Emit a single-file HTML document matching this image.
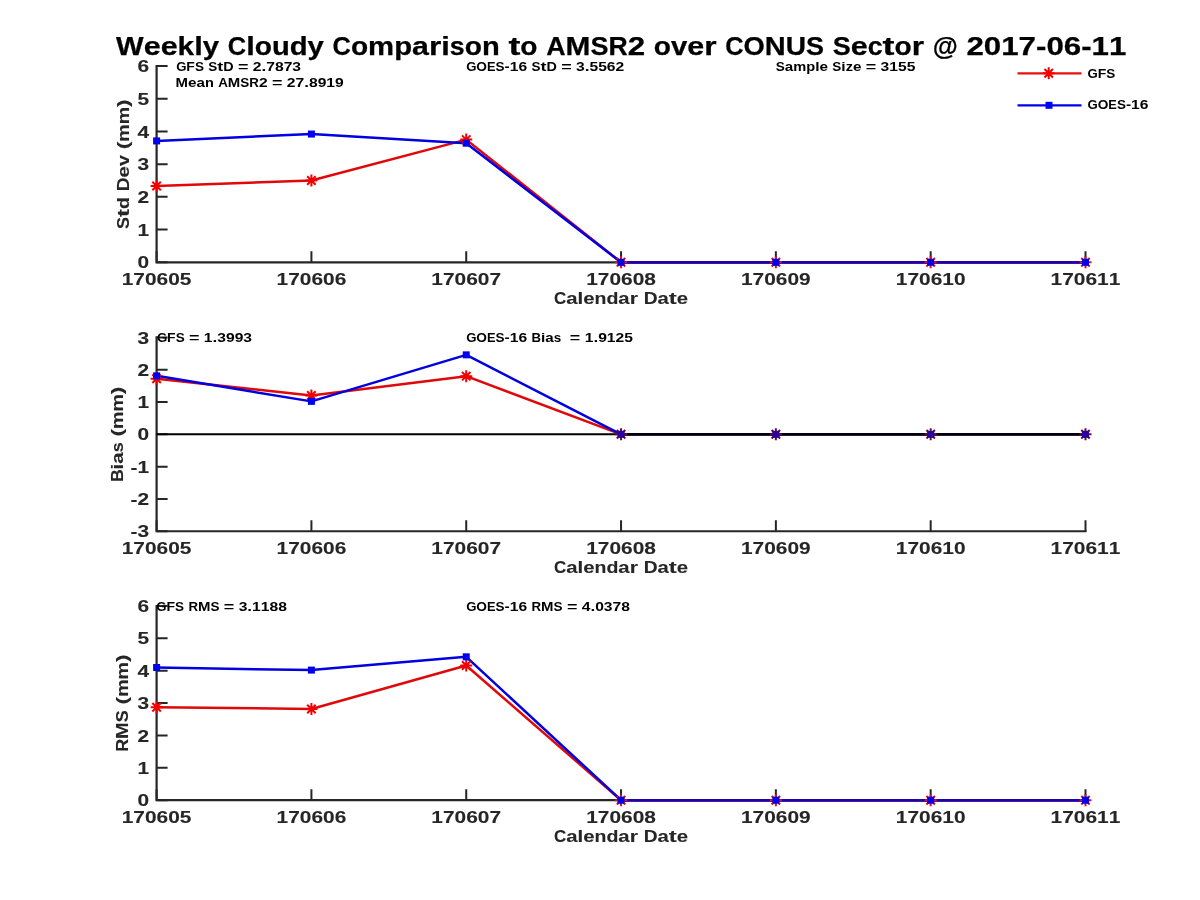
<!DOCTYPE html>
<html><head><meta charset="utf-8"><style>
html,body{margin:0;padding:0;background:#fff;width:1200px;height:900px;overflow:hidden}
svg{display:block;will-change:transform}
text{font-family:"Liberation Sans", sans-serif;font-weight:bold;white-space:pre;}
</style></head><body>
<svg width="1200" height="900" viewBox="0 0 1200 900">
<rect width="1200" height="900" fill="#fff"/>
<path d="M156.60 66.00L156.60 262.30L1085.50 262.30" stroke="#262626" stroke-width="2.2" fill="none" stroke-linecap="square"/>
<path d="M156.60 262.30L167.60 262.30M156.60 229.58L167.60 229.58M156.60 196.87L167.60 196.87M156.60 164.15L167.60 164.15M156.60 131.43L167.60 131.43M156.60 98.72L167.60 98.72M156.60 66.00L167.60 66.00M156.60 262.30L156.60 251.30M311.42 262.30L311.42 251.30M466.23 262.30L466.23 251.30M621.05 262.30L621.05 251.30M775.87 262.30L775.87 251.30M930.68 262.30L930.68 251.30M1085.50 262.30L1085.50 251.30" stroke="#262626" stroke-width="2" fill="none"/>
<g font-size="17.03" fill="#262626" stroke="#262626" stroke-width="0.10"><text x="137.48" y="268.40" textLength="11.62" lengthAdjust="spacingAndGlyphs">0</text></g>
<g font-size="17.03" fill="#262626" stroke="#262626" stroke-width="0.10"><text x="137.48" y="235.68" textLength="11.62" lengthAdjust="spacingAndGlyphs">1</text></g>
<g font-size="17.03" fill="#262626" stroke="#262626" stroke-width="0.10"><text x="137.48" y="202.97" textLength="11.62" lengthAdjust="spacingAndGlyphs">2</text></g>
<g font-size="17.03" fill="#262626" stroke="#262626" stroke-width="0.10"><text x="137.48" y="170.25" textLength="11.62" lengthAdjust="spacingAndGlyphs">3</text></g>
<g font-size="17.03" fill="#262626" stroke="#262626" stroke-width="0.10"><text x="137.48" y="137.53" textLength="11.62" lengthAdjust="spacingAndGlyphs">4</text></g>
<g font-size="17.03" fill="#262626" stroke="#262626" stroke-width="0.10"><text x="137.48" y="104.82" textLength="11.62" lengthAdjust="spacingAndGlyphs">5</text></g>
<g font-size="17.03" fill="#262626" stroke="#262626" stroke-width="0.10"><text x="137.48" y="72.10" textLength="11.62" lengthAdjust="spacingAndGlyphs">6</text></g>
<g font-size="17.03" fill="#262626" stroke="#262626" stroke-width="0.10"><text x="121.74" y="285.00" textLength="11.62" lengthAdjust="spacingAndGlyphs">1</text><text x="133.36" y="285.00" textLength="11.62" lengthAdjust="spacingAndGlyphs">7</text><text x="144.98" y="285.00" textLength="11.62" lengthAdjust="spacingAndGlyphs">0</text><text x="156.60" y="285.00" textLength="11.62" lengthAdjust="spacingAndGlyphs">6</text><text x="168.22" y="285.00" textLength="11.62" lengthAdjust="spacingAndGlyphs">0</text><text x="179.84" y="285.00" textLength="11.62" lengthAdjust="spacingAndGlyphs">5</text></g>
<g font-size="17.03" fill="#262626" stroke="#262626" stroke-width="0.10"><text x="276.56" y="285.00" textLength="11.62" lengthAdjust="spacingAndGlyphs">1</text><text x="288.18" y="285.00" textLength="11.62" lengthAdjust="spacingAndGlyphs">7</text><text x="299.80" y="285.00" textLength="11.62" lengthAdjust="spacingAndGlyphs">0</text><text x="311.42" y="285.00" textLength="11.62" lengthAdjust="spacingAndGlyphs">6</text><text x="323.04" y="285.00" textLength="11.62" lengthAdjust="spacingAndGlyphs">0</text><text x="334.66" y="285.00" textLength="11.62" lengthAdjust="spacingAndGlyphs">6</text></g>
<g font-size="17.03" fill="#262626" stroke="#262626" stroke-width="0.10"><text x="431.37" y="285.00" textLength="11.62" lengthAdjust="spacingAndGlyphs">1</text><text x="442.99" y="285.00" textLength="11.62" lengthAdjust="spacingAndGlyphs">7</text><text x="454.61" y="285.00" textLength="11.62" lengthAdjust="spacingAndGlyphs">0</text><text x="466.23" y="285.00" textLength="11.62" lengthAdjust="spacingAndGlyphs">6</text><text x="477.85" y="285.00" textLength="11.62" lengthAdjust="spacingAndGlyphs">0</text><text x="489.47" y="285.00" textLength="11.62" lengthAdjust="spacingAndGlyphs">7</text></g>
<g font-size="17.03" fill="#262626" stroke="#262626" stroke-width="0.10"><text x="586.19" y="285.00" textLength="11.62" lengthAdjust="spacingAndGlyphs">1</text><text x="597.81" y="285.00" textLength="11.62" lengthAdjust="spacingAndGlyphs">7</text><text x="609.43" y="285.00" textLength="11.62" lengthAdjust="spacingAndGlyphs">0</text><text x="621.05" y="285.00" textLength="11.62" lengthAdjust="spacingAndGlyphs">6</text><text x="632.67" y="285.00" textLength="11.62" lengthAdjust="spacingAndGlyphs">0</text><text x="644.29" y="285.00" textLength="11.62" lengthAdjust="spacingAndGlyphs">8</text></g>
<g font-size="17.03" fill="#262626" stroke="#262626" stroke-width="0.10"><text x="741.01" y="285.00" textLength="11.62" lengthAdjust="spacingAndGlyphs">1</text><text x="752.63" y="285.00" textLength="11.62" lengthAdjust="spacingAndGlyphs">7</text><text x="764.25" y="285.00" textLength="11.62" lengthAdjust="spacingAndGlyphs">0</text><text x="775.87" y="285.00" textLength="11.62" lengthAdjust="spacingAndGlyphs">6</text><text x="787.49" y="285.00" textLength="11.62" lengthAdjust="spacingAndGlyphs">0</text><text x="799.11" y="285.00" textLength="11.62" lengthAdjust="spacingAndGlyphs">9</text></g>
<g font-size="17.03" fill="#262626" stroke="#262626" stroke-width="0.10"><text x="895.82" y="285.00" textLength="11.62" lengthAdjust="spacingAndGlyphs">1</text><text x="907.44" y="285.00" textLength="11.62" lengthAdjust="spacingAndGlyphs">7</text><text x="919.06" y="285.00" textLength="11.62" lengthAdjust="spacingAndGlyphs">0</text><text x="930.68" y="285.00" textLength="11.62" lengthAdjust="spacingAndGlyphs">6</text><text x="942.30" y="285.00" textLength="11.62" lengthAdjust="spacingAndGlyphs">1</text><text x="953.92" y="285.00" textLength="11.62" lengthAdjust="spacingAndGlyphs">0</text></g>
<g font-size="17.03" fill="#262626" stroke="#262626" stroke-width="0.10"><text x="1050.64" y="285.00" textLength="11.62" lengthAdjust="spacingAndGlyphs">1</text><text x="1062.26" y="285.00" textLength="11.62" lengthAdjust="spacingAndGlyphs">7</text><text x="1073.88" y="285.00" textLength="11.62" lengthAdjust="spacingAndGlyphs">0</text><text x="1085.50" y="285.00" textLength="11.62" lengthAdjust="spacingAndGlyphs">6</text><text x="1097.12" y="285.00" textLength="11.62" lengthAdjust="spacingAndGlyphs">1</text><text x="1108.74" y="285.00" textLength="11.62" lengthAdjust="spacingAndGlyphs">1</text></g>
<g font-size="17.03" fill="#262626" stroke="#262626" stroke-width="0.10"><text x="553.96" y="304.40" textLength="12.26" lengthAdjust="spacingAndGlyphs">C</text><text x="566.22" y="304.40" textLength="11.27" lengthAdjust="spacingAndGlyphs">a</text><text x="577.49" y="304.40" textLength="5.72" lengthAdjust="spacingAndGlyphs">l</text><text x="583.21" y="304.40" textLength="11.33" lengthAdjust="spacingAndGlyphs">e</text><text x="594.54" y="304.40" textLength="11.89" lengthAdjust="spacingAndGlyphs">n</text><text x="606.43" y="304.40" textLength="11.95" lengthAdjust="spacingAndGlyphs">d</text><text x="618.38" y="304.40" textLength="11.27" lengthAdjust="spacingAndGlyphs">a</text><text x="629.65" y="304.40" textLength="8.24" lengthAdjust="spacingAndGlyphs">r</text><text x="643.70" y="304.40" textLength="13.86" lengthAdjust="spacingAndGlyphs">D</text><text x="657.56" y="304.40" textLength="11.27" lengthAdjust="spacingAndGlyphs">a</text><text x="668.83" y="304.40" textLength="7.98" lengthAdjust="spacingAndGlyphs">t</text><text x="676.81" y="304.40" textLength="11.33" lengthAdjust="spacingAndGlyphs">e</text></g>
<g font-size="17.03" fill="#262626" stroke="#262626" stroke-width="0.10" transform="rotate(-90 128.80 164.15)"><text x="63.93" y="164.15" textLength="12.03" lengthAdjust="spacingAndGlyphs">S</text><text x="75.96" y="164.15" textLength="7.98" lengthAdjust="spacingAndGlyphs">t</text><text x="83.94" y="164.15" textLength="11.95" lengthAdjust="spacingAndGlyphs">d</text><text x="101.71" y="164.15" textLength="13.86" lengthAdjust="spacingAndGlyphs">D</text><text x="115.57" y="164.15" textLength="11.33" lengthAdjust="spacingAndGlyphs">e</text><text x="126.90" y="164.15" textLength="10.89" lengthAdjust="spacingAndGlyphs">v</text><text x="143.60" y="164.15" textLength="7.63" lengthAdjust="spacingAndGlyphs">(</text><text x="151.23" y="164.15" textLength="17.40" lengthAdjust="spacingAndGlyphs">m</text><text x="168.63" y="164.15" textLength="17.40" lengthAdjust="spacingAndGlyphs">m</text><text x="186.04" y="164.15" textLength="7.63" lengthAdjust="spacingAndGlyphs">)</text></g>
<polyline points="156.60,186.07 311.42,180.51 466.23,139.61 621.05,262.30 775.87,262.30 930.68,262.30 1085.50,262.30" stroke="#e00808" stroke-width="2.5" fill="none" stroke-linejoin="round"/>
<polyline points="156.60,140.92 311.42,134.05 466.23,143.21 621.05,262.30 775.87,262.30 930.68,262.30 1085.50,262.30" stroke="#0000e0" stroke-width="2.5" fill="none" stroke-linejoin="round"/>
<path d="M621.05 262.30L1085.50 262.30" stroke="#2000a8" stroke-width="2.4" fill="none"/>
<path d="M150.60 186.07L162.60 186.07M156.60 180.07L156.60 192.07M152.36 181.83L160.84 190.31M152.36 190.31L160.84 181.83" stroke="#f00000" stroke-width="2.00" fill="none"/>
<path d="M305.42 180.51L317.42 180.51M311.42 174.51L311.42 186.51M307.17 176.27L315.66 184.75M307.17 184.75L315.66 176.27" stroke="#f00000" stroke-width="2.00" fill="none"/>
<path d="M460.23 139.61L472.23 139.61M466.23 133.61L466.23 145.61M461.99 135.37L470.48 143.86M461.99 143.86L470.48 135.37" stroke="#f00000" stroke-width="2.00" fill="none"/>
<path d="M615.05 262.30L627.05 262.30M621.05 256.30L621.05 268.30M616.81 258.06L625.29 266.54M616.81 266.54L625.29 258.06" stroke="#e01020" stroke-width="2.00" fill="none"/>
<path d="M769.87 262.30L781.87 262.30M775.87 256.30L775.87 268.30M771.62 258.06L780.11 266.54M771.62 266.54L780.11 258.06" stroke="#e01020" stroke-width="2.00" fill="none"/>
<path d="M924.68 262.30L936.68 262.30M930.68 256.30L930.68 268.30M926.44 258.06L934.93 266.54M926.44 266.54L934.93 258.06" stroke="#e01020" stroke-width="2.00" fill="none"/>
<path d="M1079.50 262.30L1091.50 262.30M1085.50 256.30L1085.50 268.30M1081.26 258.06L1089.74 266.54M1081.26 266.54L1089.74 258.06" stroke="#e01020" stroke-width="2.00" fill="none"/>
<rect x="153.10" y="137.42" width="7.00" height="7.00" fill="#0000f0"/>
<rect x="307.92" y="130.55" width="7.00" height="7.00" fill="#0000f0"/>
<rect x="462.73" y="139.71" width="7.00" height="7.00" fill="#0000f0"/>
<rect x="617.55" y="258.80" width="7.00" height="7.00" fill="#0000e8"/>
<rect x="772.37" y="258.80" width="7.00" height="7.00" fill="#0000e8"/>
<rect x="927.18" y="258.80" width="7.00" height="7.00" fill="#0000e8"/>
<rect x="1082.00" y="258.80" width="7.00" height="7.00" fill="#0000e8"/>
<path d="M156.60 337.40L156.60 531.25L1085.50 531.25" stroke="#262626" stroke-width="2.2" fill="none" stroke-linecap="square"/>
<path d="M156.60 531.25L167.60 531.25M156.60 498.94L167.60 498.94M156.60 466.63L167.60 466.63M156.60 434.32L167.60 434.32M156.60 402.02L167.60 402.02M156.60 369.71L167.60 369.71M156.60 337.40L167.60 337.40M156.60 531.25L156.60 520.25M311.42 531.25L311.42 520.25M466.23 531.25L466.23 520.25M621.05 531.25L621.05 520.25M775.87 531.25L775.87 520.25M930.68 531.25L930.68 520.25M1085.50 531.25L1085.50 520.25" stroke="#262626" stroke-width="2" fill="none"/>
<g font-size="17.03" fill="#262626" stroke="#262626" stroke-width="0.10"><text x="130.55" y="537.35" textLength="6.93" lengthAdjust="spacingAndGlyphs">-</text><text x="137.48" y="537.35" textLength="11.62" lengthAdjust="spacingAndGlyphs">3</text></g>
<g font-size="17.03" fill="#262626" stroke="#262626" stroke-width="0.10"><text x="130.55" y="505.04" textLength="6.93" lengthAdjust="spacingAndGlyphs">-</text><text x="137.48" y="505.04" textLength="11.62" lengthAdjust="spacingAndGlyphs">2</text></g>
<g font-size="17.03" fill="#262626" stroke="#262626" stroke-width="0.10"><text x="130.55" y="472.73" textLength="6.93" lengthAdjust="spacingAndGlyphs">-</text><text x="137.48" y="472.73" textLength="11.62" lengthAdjust="spacingAndGlyphs">1</text></g>
<g font-size="17.03" fill="#262626" stroke="#262626" stroke-width="0.10"><text x="137.48" y="440.43" textLength="11.62" lengthAdjust="spacingAndGlyphs">0</text></g>
<g font-size="17.03" fill="#262626" stroke="#262626" stroke-width="0.10"><text x="137.48" y="408.12" textLength="11.62" lengthAdjust="spacingAndGlyphs">1</text></g>
<g font-size="17.03" fill="#262626" stroke="#262626" stroke-width="0.10"><text x="137.48" y="375.81" textLength="11.62" lengthAdjust="spacingAndGlyphs">2</text></g>
<g font-size="17.03" fill="#262626" stroke="#262626" stroke-width="0.10"><text x="137.48" y="343.50" textLength="11.62" lengthAdjust="spacingAndGlyphs">3</text></g>
<g font-size="17.03" fill="#262626" stroke="#262626" stroke-width="0.10"><text x="121.74" y="553.95" textLength="11.62" lengthAdjust="spacingAndGlyphs">1</text><text x="133.36" y="553.95" textLength="11.62" lengthAdjust="spacingAndGlyphs">7</text><text x="144.98" y="553.95" textLength="11.62" lengthAdjust="spacingAndGlyphs">0</text><text x="156.60" y="553.95" textLength="11.62" lengthAdjust="spacingAndGlyphs">6</text><text x="168.22" y="553.95" textLength="11.62" lengthAdjust="spacingAndGlyphs">0</text><text x="179.84" y="553.95" textLength="11.62" lengthAdjust="spacingAndGlyphs">5</text></g>
<g font-size="17.03" fill="#262626" stroke="#262626" stroke-width="0.10"><text x="276.56" y="553.95" textLength="11.62" lengthAdjust="spacingAndGlyphs">1</text><text x="288.18" y="553.95" textLength="11.62" lengthAdjust="spacingAndGlyphs">7</text><text x="299.80" y="553.95" textLength="11.62" lengthAdjust="spacingAndGlyphs">0</text><text x="311.42" y="553.95" textLength="11.62" lengthAdjust="spacingAndGlyphs">6</text><text x="323.04" y="553.95" textLength="11.62" lengthAdjust="spacingAndGlyphs">0</text><text x="334.66" y="553.95" textLength="11.62" lengthAdjust="spacingAndGlyphs">6</text></g>
<g font-size="17.03" fill="#262626" stroke="#262626" stroke-width="0.10"><text x="431.37" y="553.95" textLength="11.62" lengthAdjust="spacingAndGlyphs">1</text><text x="442.99" y="553.95" textLength="11.62" lengthAdjust="spacingAndGlyphs">7</text><text x="454.61" y="553.95" textLength="11.62" lengthAdjust="spacingAndGlyphs">0</text><text x="466.23" y="553.95" textLength="11.62" lengthAdjust="spacingAndGlyphs">6</text><text x="477.85" y="553.95" textLength="11.62" lengthAdjust="spacingAndGlyphs">0</text><text x="489.47" y="553.95" textLength="11.62" lengthAdjust="spacingAndGlyphs">7</text></g>
<g font-size="17.03" fill="#262626" stroke="#262626" stroke-width="0.10"><text x="586.19" y="553.95" textLength="11.62" lengthAdjust="spacingAndGlyphs">1</text><text x="597.81" y="553.95" textLength="11.62" lengthAdjust="spacingAndGlyphs">7</text><text x="609.43" y="553.95" textLength="11.62" lengthAdjust="spacingAndGlyphs">0</text><text x="621.05" y="553.95" textLength="11.62" lengthAdjust="spacingAndGlyphs">6</text><text x="632.67" y="553.95" textLength="11.62" lengthAdjust="spacingAndGlyphs">0</text><text x="644.29" y="553.95" textLength="11.62" lengthAdjust="spacingAndGlyphs">8</text></g>
<g font-size="17.03" fill="#262626" stroke="#262626" stroke-width="0.10"><text x="741.01" y="553.95" textLength="11.62" lengthAdjust="spacingAndGlyphs">1</text><text x="752.63" y="553.95" textLength="11.62" lengthAdjust="spacingAndGlyphs">7</text><text x="764.25" y="553.95" textLength="11.62" lengthAdjust="spacingAndGlyphs">0</text><text x="775.87" y="553.95" textLength="11.62" lengthAdjust="spacingAndGlyphs">6</text><text x="787.49" y="553.95" textLength="11.62" lengthAdjust="spacingAndGlyphs">0</text><text x="799.11" y="553.95" textLength="11.62" lengthAdjust="spacingAndGlyphs">9</text></g>
<g font-size="17.03" fill="#262626" stroke="#262626" stroke-width="0.10"><text x="895.82" y="553.95" textLength="11.62" lengthAdjust="spacingAndGlyphs">1</text><text x="907.44" y="553.95" textLength="11.62" lengthAdjust="spacingAndGlyphs">7</text><text x="919.06" y="553.95" textLength="11.62" lengthAdjust="spacingAndGlyphs">0</text><text x="930.68" y="553.95" textLength="11.62" lengthAdjust="spacingAndGlyphs">6</text><text x="942.30" y="553.95" textLength="11.62" lengthAdjust="spacingAndGlyphs">1</text><text x="953.92" y="553.95" textLength="11.62" lengthAdjust="spacingAndGlyphs">0</text></g>
<g font-size="17.03" fill="#262626" stroke="#262626" stroke-width="0.10"><text x="1050.64" y="553.95" textLength="11.62" lengthAdjust="spacingAndGlyphs">1</text><text x="1062.26" y="553.95" textLength="11.62" lengthAdjust="spacingAndGlyphs">7</text><text x="1073.88" y="553.95" textLength="11.62" lengthAdjust="spacingAndGlyphs">0</text><text x="1085.50" y="553.95" textLength="11.62" lengthAdjust="spacingAndGlyphs">6</text><text x="1097.12" y="553.95" textLength="11.62" lengthAdjust="spacingAndGlyphs">1</text><text x="1108.74" y="553.95" textLength="11.62" lengthAdjust="spacingAndGlyphs">1</text></g>
<g font-size="17.03" fill="#262626" stroke="#262626" stroke-width="0.10"><text x="553.96" y="573.35" textLength="12.26" lengthAdjust="spacingAndGlyphs">C</text><text x="566.22" y="573.35" textLength="11.27" lengthAdjust="spacingAndGlyphs">a</text><text x="577.49" y="573.35" textLength="5.72" lengthAdjust="spacingAndGlyphs">l</text><text x="583.21" y="573.35" textLength="11.33" lengthAdjust="spacingAndGlyphs">e</text><text x="594.54" y="573.35" textLength="11.89" lengthAdjust="spacingAndGlyphs">n</text><text x="606.43" y="573.35" textLength="11.95" lengthAdjust="spacingAndGlyphs">d</text><text x="618.38" y="573.35" textLength="11.27" lengthAdjust="spacingAndGlyphs">a</text><text x="629.65" y="573.35" textLength="8.24" lengthAdjust="spacingAndGlyphs">r</text><text x="643.70" y="573.35" textLength="13.86" lengthAdjust="spacingAndGlyphs">D</text><text x="657.56" y="573.35" textLength="11.27" lengthAdjust="spacingAndGlyphs">a</text><text x="668.83" y="573.35" textLength="7.98" lengthAdjust="spacingAndGlyphs">t</text><text x="676.81" y="573.35" textLength="11.33" lengthAdjust="spacingAndGlyphs">e</text></g>
<g font-size="17.03" fill="#262626" stroke="#262626" stroke-width="0.10" transform="rotate(-90 122.60 434.32)"><text x="74.83" y="434.32" textLength="12.73" lengthAdjust="spacingAndGlyphs">B</text><text x="87.56" y="434.32" textLength="5.72" lengthAdjust="spacingAndGlyphs">i</text><text x="93.28" y="434.32" textLength="11.27" lengthAdjust="spacingAndGlyphs">a</text><text x="104.55" y="434.32" textLength="9.94" lengthAdjust="spacingAndGlyphs">s</text><text x="120.30" y="434.32" textLength="7.63" lengthAdjust="spacingAndGlyphs">(</text><text x="127.94" y="434.32" textLength="17.40" lengthAdjust="spacingAndGlyphs">m</text><text x="145.34" y="434.32" textLength="17.40" lengthAdjust="spacingAndGlyphs">m</text><text x="162.74" y="434.32" textLength="7.63" lengthAdjust="spacingAndGlyphs">)</text></g>
<polyline points="156.60,378.75 311.42,395.55 466.23,376.17 621.05,434.32 775.87,434.32 930.68,434.32 1085.50,434.32" stroke="#e00808" stroke-width="2.5" fill="none" stroke-linejoin="round"/>
<polyline points="156.60,375.85 311.42,401.37 466.23,354.85 621.05,434.32 775.87,434.32 930.68,434.32 1085.50,434.32" stroke="#0000e0" stroke-width="2.5" fill="none" stroke-linejoin="round"/>
<path d="M156.60 434.32L1085.50 434.32" stroke="#000" stroke-width="2" fill="none"/>
<path d="M621.05 434.32L1085.50 434.32" stroke="#000" stroke-width="2.4" fill="none"/>
<path d="M150.60 378.75L162.60 378.75M156.60 372.75L156.60 384.75M152.36 374.51L160.84 383.00M152.36 383.00L160.84 374.51" stroke="#f00000" stroke-width="2.00" fill="none"/>
<path d="M305.42 395.55L317.42 395.55M311.42 389.55L311.42 401.55M307.17 391.31L315.66 399.80M307.17 399.80L315.66 391.31" stroke="#f00000" stroke-width="2.00" fill="none"/>
<path d="M460.23 376.17L472.23 376.17M466.23 370.17L466.23 382.17M461.99 371.93L470.48 380.41M461.99 380.41L470.48 371.93" stroke="#f00000" stroke-width="2.00" fill="none"/>
<path d="M615.05 434.32L627.05 434.32M621.05 428.32L621.05 440.32M616.81 430.08L625.29 438.57M616.81 438.57L625.29 430.08" stroke="#6a1030" stroke-width="2.00" fill="none"/>
<path d="M769.87 434.32L781.87 434.32M775.87 428.32L775.87 440.32M771.62 430.08L780.11 438.57M771.62 438.57L780.11 430.08" stroke="#6a1030" stroke-width="2.00" fill="none"/>
<path d="M924.68 434.32L936.68 434.32M930.68 428.32L930.68 440.32M926.44 430.08L934.93 438.57M926.44 438.57L934.93 430.08" stroke="#6a1030" stroke-width="2.00" fill="none"/>
<path d="M1079.50 434.32L1091.50 434.32M1085.50 428.32L1085.50 440.32M1081.26 430.08L1089.74 438.57M1081.26 438.57L1089.74 430.08" stroke="#6a1030" stroke-width="2.00" fill="none"/>
<rect x="153.10" y="372.35" width="7.00" height="7.00" fill="#0000f0"/>
<rect x="307.92" y="397.87" width="7.00" height="7.00" fill="#0000f0"/>
<rect x="462.73" y="351.35" width="7.00" height="7.00" fill="#0000f0"/>
<rect x="617.55" y="430.82" width="7.00" height="7.00" fill="#2a00a0"/>
<rect x="772.37" y="430.82" width="7.00" height="7.00" fill="#2a00a0"/>
<rect x="927.18" y="430.82" width="7.00" height="7.00" fill="#2a00a0"/>
<rect x="1082.00" y="430.82" width="7.00" height="7.00" fill="#2a00a0"/>
<path d="M156.60 606.00L156.60 800.20L1085.50 800.20" stroke="#262626" stroke-width="2.2" fill="none" stroke-linecap="square"/>
<path d="M156.60 800.20L167.60 800.20M156.60 767.83L167.60 767.83M156.60 735.47L167.60 735.47M156.60 703.10L167.60 703.10M156.60 670.73L167.60 670.73M156.60 638.37L167.60 638.37M156.60 606.00L167.60 606.00M156.60 800.20L156.60 789.20M311.42 800.20L311.42 789.20M466.23 800.20L466.23 789.20M621.05 800.20L621.05 789.20M775.87 800.20L775.87 789.20M930.68 800.20L930.68 789.20M1085.50 800.20L1085.50 789.20" stroke="#262626" stroke-width="2" fill="none"/>
<g font-size="17.03" fill="#262626" stroke="#262626" stroke-width="0.10"><text x="137.48" y="806.30" textLength="11.62" lengthAdjust="spacingAndGlyphs">0</text></g>
<g font-size="17.03" fill="#262626" stroke="#262626" stroke-width="0.10"><text x="137.48" y="773.93" textLength="11.62" lengthAdjust="spacingAndGlyphs">1</text></g>
<g font-size="17.03" fill="#262626" stroke="#262626" stroke-width="0.10"><text x="137.48" y="741.57" textLength="11.62" lengthAdjust="spacingAndGlyphs">2</text></g>
<g font-size="17.03" fill="#262626" stroke="#262626" stroke-width="0.10"><text x="137.48" y="709.20" textLength="11.62" lengthAdjust="spacingAndGlyphs">3</text></g>
<g font-size="17.03" fill="#262626" stroke="#262626" stroke-width="0.10"><text x="137.48" y="676.83" textLength="11.62" lengthAdjust="spacingAndGlyphs">4</text></g>
<g font-size="17.03" fill="#262626" stroke="#262626" stroke-width="0.10"><text x="137.48" y="644.47" textLength="11.62" lengthAdjust="spacingAndGlyphs">5</text></g>
<g font-size="17.03" fill="#262626" stroke="#262626" stroke-width="0.10"><text x="137.48" y="612.10" textLength="11.62" lengthAdjust="spacingAndGlyphs">6</text></g>
<g font-size="17.03" fill="#262626" stroke="#262626" stroke-width="0.10"><text x="121.74" y="822.90" textLength="11.62" lengthAdjust="spacingAndGlyphs">1</text><text x="133.36" y="822.90" textLength="11.62" lengthAdjust="spacingAndGlyphs">7</text><text x="144.98" y="822.90" textLength="11.62" lengthAdjust="spacingAndGlyphs">0</text><text x="156.60" y="822.90" textLength="11.62" lengthAdjust="spacingAndGlyphs">6</text><text x="168.22" y="822.90" textLength="11.62" lengthAdjust="spacingAndGlyphs">0</text><text x="179.84" y="822.90" textLength="11.62" lengthAdjust="spacingAndGlyphs">5</text></g>
<g font-size="17.03" fill="#262626" stroke="#262626" stroke-width="0.10"><text x="276.56" y="822.90" textLength="11.62" lengthAdjust="spacingAndGlyphs">1</text><text x="288.18" y="822.90" textLength="11.62" lengthAdjust="spacingAndGlyphs">7</text><text x="299.80" y="822.90" textLength="11.62" lengthAdjust="spacingAndGlyphs">0</text><text x="311.42" y="822.90" textLength="11.62" lengthAdjust="spacingAndGlyphs">6</text><text x="323.04" y="822.90" textLength="11.62" lengthAdjust="spacingAndGlyphs">0</text><text x="334.66" y="822.90" textLength="11.62" lengthAdjust="spacingAndGlyphs">6</text></g>
<g font-size="17.03" fill="#262626" stroke="#262626" stroke-width="0.10"><text x="431.37" y="822.90" textLength="11.62" lengthAdjust="spacingAndGlyphs">1</text><text x="442.99" y="822.90" textLength="11.62" lengthAdjust="spacingAndGlyphs">7</text><text x="454.61" y="822.90" textLength="11.62" lengthAdjust="spacingAndGlyphs">0</text><text x="466.23" y="822.90" textLength="11.62" lengthAdjust="spacingAndGlyphs">6</text><text x="477.85" y="822.90" textLength="11.62" lengthAdjust="spacingAndGlyphs">0</text><text x="489.47" y="822.90" textLength="11.62" lengthAdjust="spacingAndGlyphs">7</text></g>
<g font-size="17.03" fill="#262626" stroke="#262626" stroke-width="0.10"><text x="586.19" y="822.90" textLength="11.62" lengthAdjust="spacingAndGlyphs">1</text><text x="597.81" y="822.90" textLength="11.62" lengthAdjust="spacingAndGlyphs">7</text><text x="609.43" y="822.90" textLength="11.62" lengthAdjust="spacingAndGlyphs">0</text><text x="621.05" y="822.90" textLength="11.62" lengthAdjust="spacingAndGlyphs">6</text><text x="632.67" y="822.90" textLength="11.62" lengthAdjust="spacingAndGlyphs">0</text><text x="644.29" y="822.90" textLength="11.62" lengthAdjust="spacingAndGlyphs">8</text></g>
<g font-size="17.03" fill="#262626" stroke="#262626" stroke-width="0.10"><text x="741.01" y="822.90" textLength="11.62" lengthAdjust="spacingAndGlyphs">1</text><text x="752.63" y="822.90" textLength="11.62" lengthAdjust="spacingAndGlyphs">7</text><text x="764.25" y="822.90" textLength="11.62" lengthAdjust="spacingAndGlyphs">0</text><text x="775.87" y="822.90" textLength="11.62" lengthAdjust="spacingAndGlyphs">6</text><text x="787.49" y="822.90" textLength="11.62" lengthAdjust="spacingAndGlyphs">0</text><text x="799.11" y="822.90" textLength="11.62" lengthAdjust="spacingAndGlyphs">9</text></g>
<g font-size="17.03" fill="#262626" stroke="#262626" stroke-width="0.10"><text x="895.82" y="822.90" textLength="11.62" lengthAdjust="spacingAndGlyphs">1</text><text x="907.44" y="822.90" textLength="11.62" lengthAdjust="spacingAndGlyphs">7</text><text x="919.06" y="822.90" textLength="11.62" lengthAdjust="spacingAndGlyphs">0</text><text x="930.68" y="822.90" textLength="11.62" lengthAdjust="spacingAndGlyphs">6</text><text x="942.30" y="822.90" textLength="11.62" lengthAdjust="spacingAndGlyphs">1</text><text x="953.92" y="822.90" textLength="11.62" lengthAdjust="spacingAndGlyphs">0</text></g>
<g font-size="17.03" fill="#262626" stroke="#262626" stroke-width="0.10"><text x="1050.64" y="822.90" textLength="11.62" lengthAdjust="spacingAndGlyphs">1</text><text x="1062.26" y="822.90" textLength="11.62" lengthAdjust="spacingAndGlyphs">7</text><text x="1073.88" y="822.90" textLength="11.62" lengthAdjust="spacingAndGlyphs">0</text><text x="1085.50" y="822.90" textLength="11.62" lengthAdjust="spacingAndGlyphs">6</text><text x="1097.12" y="822.90" textLength="11.62" lengthAdjust="spacingAndGlyphs">1</text><text x="1108.74" y="822.90" textLength="11.62" lengthAdjust="spacingAndGlyphs">1</text></g>
<g font-size="17.03" fill="#262626" stroke="#262626" stroke-width="0.10"><text x="553.96" y="842.30" textLength="12.26" lengthAdjust="spacingAndGlyphs">C</text><text x="566.22" y="842.30" textLength="11.27" lengthAdjust="spacingAndGlyphs">a</text><text x="577.49" y="842.30" textLength="5.72" lengthAdjust="spacingAndGlyphs">l</text><text x="583.21" y="842.30" textLength="11.33" lengthAdjust="spacingAndGlyphs">e</text><text x="594.54" y="842.30" textLength="11.89" lengthAdjust="spacingAndGlyphs">n</text><text x="606.43" y="842.30" textLength="11.95" lengthAdjust="spacingAndGlyphs">d</text><text x="618.38" y="842.30" textLength="11.27" lengthAdjust="spacingAndGlyphs">a</text><text x="629.65" y="842.30" textLength="8.24" lengthAdjust="spacingAndGlyphs">r</text><text x="643.70" y="842.30" textLength="13.86" lengthAdjust="spacingAndGlyphs">D</text><text x="657.56" y="842.30" textLength="11.27" lengthAdjust="spacingAndGlyphs">a</text><text x="668.83" y="842.30" textLength="7.98" lengthAdjust="spacingAndGlyphs">t</text><text x="676.81" y="842.30" textLength="11.33" lengthAdjust="spacingAndGlyphs">e</text></g>
<g font-size="17.03" fill="#262626" stroke="#262626" stroke-width="0.10" transform="rotate(-90 128.20 703.10)"><text x="79.51" y="703.10" textLength="12.86" lengthAdjust="spacingAndGlyphs">R</text><text x="92.37" y="703.10" textLength="16.62" lengthAdjust="spacingAndGlyphs">M</text><text x="108.98" y="703.10" textLength="12.03" lengthAdjust="spacingAndGlyphs">S</text><text x="126.83" y="703.10" textLength="7.63" lengthAdjust="spacingAndGlyphs">(</text><text x="134.46" y="703.10" textLength="17.40" lengthAdjust="spacingAndGlyphs">m</text><text x="151.86" y="703.10" textLength="17.40" lengthAdjust="spacingAndGlyphs">m</text><text x="169.26" y="703.10" textLength="7.63" lengthAdjust="spacingAndGlyphs">)</text></g>
<polyline points="156.60,707.31 311.42,708.93 466.23,665.55 621.05,800.20 775.87,800.20 930.68,800.20 1085.50,800.20" stroke="#e00808" stroke-width="2.5" fill="none" stroke-linejoin="round"/>
<polyline points="156.60,667.50 311.42,670.09 466.23,656.82 621.05,800.20 775.87,800.20 930.68,800.20 1085.50,800.20" stroke="#0000e0" stroke-width="2.5" fill="none" stroke-linejoin="round"/>
<path d="M621.05 800.20L1085.50 800.20" stroke="#2000a8" stroke-width="2.4" fill="none"/>
<path d="M150.60 707.31L162.60 707.31M156.60 701.31L156.60 713.31M152.36 703.07L160.84 711.55M152.36 711.55L160.84 703.07" stroke="#f00000" stroke-width="2.00" fill="none"/>
<path d="M305.42 708.93L317.42 708.93M311.42 702.93L311.42 714.93M307.17 704.68L315.66 713.17M307.17 713.17L315.66 704.68" stroke="#f00000" stroke-width="2.00" fill="none"/>
<path d="M460.23 665.55L472.23 665.55M466.23 659.55L466.23 671.55M461.99 661.31L470.48 669.80M461.99 669.80L470.48 661.31" stroke="#f00000" stroke-width="2.00" fill="none"/>
<path d="M615.05 800.20L627.05 800.20M621.05 794.20L621.05 806.20M616.81 795.96L625.29 804.44M616.81 804.44L625.29 795.96" stroke="#e01020" stroke-width="2.00" fill="none"/>
<path d="M769.87 800.20L781.87 800.20M775.87 794.20L775.87 806.20M771.62 795.96L780.11 804.44M771.62 804.44L780.11 795.96" stroke="#e01020" stroke-width="2.00" fill="none"/>
<path d="M924.68 800.20L936.68 800.20M930.68 794.20L930.68 806.20M926.44 795.96L934.93 804.44M926.44 804.44L934.93 795.96" stroke="#e01020" stroke-width="2.00" fill="none"/>
<path d="M1079.50 800.20L1091.50 800.20M1085.50 794.20L1085.50 806.20M1081.26 795.96L1089.74 804.44M1081.26 804.44L1089.74 795.96" stroke="#e01020" stroke-width="2.00" fill="none"/>
<rect x="153.10" y="664.00" width="7.00" height="7.00" fill="#0000f0"/>
<rect x="307.92" y="666.59" width="7.00" height="7.00" fill="#0000f0"/>
<rect x="462.73" y="653.32" width="7.00" height="7.00" fill="#0000f0"/>
<rect x="617.55" y="796.70" width="7.00" height="7.00" fill="#0000e8"/>
<rect x="772.37" y="796.70" width="7.00" height="7.00" fill="#0000e8"/>
<rect x="927.18" y="796.70" width="7.00" height="7.00" fill="#0000e8"/>
<rect x="1082.00" y="796.70" width="7.00" height="7.00" fill="#0000e8"/>
<g font-size="13.25" fill="#000"><text x="176.13" y="70.80" textLength="10.26" lengthAdjust="spacingAndGlyphs">G</text><text x="186.39" y="70.80" textLength="8.54" lengthAdjust="spacingAndGlyphs">F</text><text x="194.93" y="70.80" textLength="9.00" lengthAdjust="spacingAndGlyphs">S</text><text x="208.28" y="70.80" textLength="9.00" lengthAdjust="spacingAndGlyphs">S</text><text x="217.28" y="70.80" textLength="5.98" lengthAdjust="spacingAndGlyphs">t</text><text x="223.26" y="70.80" textLength="10.38" lengthAdjust="spacingAndGlyphs">D</text><text x="237.99" y="70.80" textLength="10.47" lengthAdjust="spacingAndGlyphs">=</text><text x="252.81" y="70.80" textLength="8.70" lengthAdjust="spacingAndGlyphs">2</text><text x="261.51" y="70.80" textLength="4.75" lengthAdjust="spacingAndGlyphs">.</text><text x="266.26" y="70.80" textLength="8.70" lengthAdjust="spacingAndGlyphs">7</text><text x="274.96" y="70.80" textLength="8.70" lengthAdjust="spacingAndGlyphs">8</text><text x="283.65" y="70.80" textLength="8.70" lengthAdjust="spacingAndGlyphs">7</text><text x="292.35" y="70.80" textLength="8.70" lengthAdjust="spacingAndGlyphs">3</text></g>
<g font-size="13.25" fill="#000"><text x="175.60" y="86.90" textLength="12.44" lengthAdjust="spacingAndGlyphs">M</text><text x="188.04" y="86.90" textLength="8.48" lengthAdjust="spacingAndGlyphs">e</text><text x="196.52" y="86.90" textLength="8.44" lengthAdjust="spacingAndGlyphs">a</text><text x="204.95" y="86.90" textLength="8.90" lengthAdjust="spacingAndGlyphs">n</text><text x="218.21" y="86.90" textLength="9.67" lengthAdjust="spacingAndGlyphs">A</text><text x="227.88" y="86.90" textLength="12.44" lengthAdjust="spacingAndGlyphs">M</text><text x="240.32" y="86.90" textLength="9.00" lengthAdjust="spacingAndGlyphs">S</text><text x="249.32" y="86.90" textLength="9.63" lengthAdjust="spacingAndGlyphs">R</text><text x="258.95" y="86.90" textLength="8.70" lengthAdjust="spacingAndGlyphs">2</text><text x="272.00" y="86.90" textLength="10.47" lengthAdjust="spacingAndGlyphs">=</text><text x="286.82" y="86.90" textLength="8.70" lengthAdjust="spacingAndGlyphs">2</text><text x="295.52" y="86.90" textLength="8.70" lengthAdjust="spacingAndGlyphs">7</text><text x="304.22" y="86.90" textLength="4.75" lengthAdjust="spacingAndGlyphs">.</text><text x="308.96" y="86.90" textLength="8.70" lengthAdjust="spacingAndGlyphs">8</text><text x="317.66" y="86.90" textLength="8.70" lengthAdjust="spacingAndGlyphs">9</text><text x="326.36" y="86.90" textLength="8.70" lengthAdjust="spacingAndGlyphs">1</text><text x="335.06" y="86.90" textLength="8.70" lengthAdjust="spacingAndGlyphs">9</text></g>
<g font-size="13.25" fill="#000"><text x="466.13" y="70.80" textLength="10.26" lengthAdjust="spacingAndGlyphs">G</text><text x="476.39" y="70.80" textLength="10.63" lengthAdjust="spacingAndGlyphs">O</text><text x="487.01" y="70.80" textLength="8.54" lengthAdjust="spacingAndGlyphs">E</text><text x="495.55" y="70.80" textLength="9.00" lengthAdjust="spacingAndGlyphs">S</text><text x="504.56" y="70.80" textLength="5.19" lengthAdjust="spacingAndGlyphs">-</text><text x="509.74" y="70.80" textLength="8.70" lengthAdjust="spacingAndGlyphs">1</text><text x="518.44" y="70.80" textLength="8.70" lengthAdjust="spacingAndGlyphs">6</text><text x="531.49" y="70.80" textLength="9.00" lengthAdjust="spacingAndGlyphs">S</text><text x="540.49" y="70.80" textLength="5.98" lengthAdjust="spacingAndGlyphs">t</text><text x="546.47" y="70.80" textLength="10.38" lengthAdjust="spacingAndGlyphs">D</text><text x="561.20" y="70.80" textLength="10.47" lengthAdjust="spacingAndGlyphs">=</text><text x="576.02" y="70.80" textLength="8.70" lengthAdjust="spacingAndGlyphs">3</text><text x="584.72" y="70.80" textLength="4.75" lengthAdjust="spacingAndGlyphs">.</text><text x="589.47" y="70.80" textLength="8.70" lengthAdjust="spacingAndGlyphs">5</text><text x="598.16" y="70.80" textLength="8.70" lengthAdjust="spacingAndGlyphs">5</text><text x="606.86" y="70.80" textLength="8.70" lengthAdjust="spacingAndGlyphs">6</text><text x="615.56" y="70.80" textLength="8.70" lengthAdjust="spacingAndGlyphs">2</text></g>
<g font-size="13.25" fill="#000"><text x="775.85" y="70.80" textLength="9.00" lengthAdjust="spacingAndGlyphs">S</text><text x="784.86" y="70.80" textLength="8.44" lengthAdjust="spacingAndGlyphs">a</text><text x="793.29" y="70.80" textLength="13.02" lengthAdjust="spacingAndGlyphs">m</text><text x="806.32" y="70.80" textLength="8.95" lengthAdjust="spacingAndGlyphs">p</text><text x="815.26" y="70.80" textLength="4.28" lengthAdjust="spacingAndGlyphs">l</text><text x="819.55" y="70.80" textLength="8.48" lengthAdjust="spacingAndGlyphs">e</text><text x="832.38" y="70.80" textLength="9.00" lengthAdjust="spacingAndGlyphs">S</text><text x="841.38" y="70.80" textLength="4.28" lengthAdjust="spacingAndGlyphs">i</text><text x="845.66" y="70.80" textLength="7.28" lengthAdjust="spacingAndGlyphs">z</text><text x="852.94" y="70.80" textLength="8.48" lengthAdjust="spacingAndGlyphs">e</text><text x="865.77" y="70.80" textLength="10.47" lengthAdjust="spacingAndGlyphs">=</text><text x="880.60" y="70.80" textLength="8.70" lengthAdjust="spacingAndGlyphs">3</text><text x="889.29" y="70.80" textLength="8.70" lengthAdjust="spacingAndGlyphs">1</text><text x="897.99" y="70.80" textLength="8.70" lengthAdjust="spacingAndGlyphs">5</text><text x="906.69" y="70.80" textLength="8.70" lengthAdjust="spacingAndGlyphs">5</text></g>
<g font-size="13.25" fill="#000"><text x="156.88" y="341.50" textLength="10.26" lengthAdjust="spacingAndGlyphs">G</text><text x="167.14" y="341.50" textLength="8.54" lengthAdjust="spacingAndGlyphs">F</text><text x="175.68" y="341.50" textLength="9.00" lengthAdjust="spacingAndGlyphs">S</text><text x="189.03" y="341.50" textLength="10.47" lengthAdjust="spacingAndGlyphs">=</text><text x="203.86" y="341.50" textLength="8.70" lengthAdjust="spacingAndGlyphs">1</text><text x="212.55" y="341.50" textLength="4.75" lengthAdjust="spacingAndGlyphs">.</text><text x="217.30" y="341.50" textLength="8.70" lengthAdjust="spacingAndGlyphs">3</text><text x="226.00" y="341.50" textLength="8.70" lengthAdjust="spacingAndGlyphs">9</text><text x="234.70" y="341.50" textLength="8.70" lengthAdjust="spacingAndGlyphs">9</text><text x="243.39" y="341.50" textLength="8.70" lengthAdjust="spacingAndGlyphs">3</text></g>
<g font-size="13.25" fill="#000"><text x="466.13" y="341.50" textLength="10.26" lengthAdjust="spacingAndGlyphs">G</text><text x="476.39" y="341.50" textLength="10.63" lengthAdjust="spacingAndGlyphs">O</text><text x="487.01" y="341.50" textLength="8.54" lengthAdjust="spacingAndGlyphs">E</text><text x="495.55" y="341.50" textLength="9.00" lengthAdjust="spacingAndGlyphs">S</text><text x="504.56" y="341.50" textLength="5.19" lengthAdjust="spacingAndGlyphs">-</text><text x="509.74" y="341.50" textLength="8.70" lengthAdjust="spacingAndGlyphs">1</text><text x="518.44" y="341.50" textLength="8.70" lengthAdjust="spacingAndGlyphs">6</text><text x="531.49" y="341.50" textLength="9.53" lengthAdjust="spacingAndGlyphs">B</text><text x="541.02" y="341.50" textLength="4.28" lengthAdjust="spacingAndGlyphs">i</text><text x="545.30" y="341.50" textLength="8.44" lengthAdjust="spacingAndGlyphs">a</text><text x="553.74" y="341.50" textLength="7.44" lengthAdjust="spacingAndGlyphs">s</text><text x="569.88" y="341.50" textLength="10.47" lengthAdjust="spacingAndGlyphs">=</text><text x="584.71" y="341.50" textLength="8.70" lengthAdjust="spacingAndGlyphs">1</text><text x="593.40" y="341.50" textLength="4.75" lengthAdjust="spacingAndGlyphs">.</text><text x="598.15" y="341.50" textLength="8.70" lengthAdjust="spacingAndGlyphs">9</text><text x="606.85" y="341.50" textLength="8.70" lengthAdjust="spacingAndGlyphs">1</text><text x="615.55" y="341.50" textLength="8.70" lengthAdjust="spacingAndGlyphs">2</text><text x="624.25" y="341.50" textLength="8.70" lengthAdjust="spacingAndGlyphs">5</text></g>
<g font-size="13.25" fill="#000"><text x="156.28" y="610.60" textLength="10.26" lengthAdjust="spacingAndGlyphs">G</text><text x="166.54" y="610.60" textLength="8.54" lengthAdjust="spacingAndGlyphs">F</text><text x="175.08" y="610.60" textLength="9.00" lengthAdjust="spacingAndGlyphs">S</text><text x="188.43" y="610.60" textLength="9.63" lengthAdjust="spacingAndGlyphs">R</text><text x="198.06" y="610.60" textLength="12.44" lengthAdjust="spacingAndGlyphs">M</text><text x="210.49" y="610.60" textLength="9.00" lengthAdjust="spacingAndGlyphs">S</text><text x="223.85" y="610.60" textLength="10.47" lengthAdjust="spacingAndGlyphs">=</text><text x="238.67" y="610.60" textLength="8.70" lengthAdjust="spacingAndGlyphs">3</text><text x="247.37" y="610.60" textLength="4.75" lengthAdjust="spacingAndGlyphs">.</text><text x="252.12" y="610.60" textLength="8.70" lengthAdjust="spacingAndGlyphs">1</text><text x="260.82" y="610.60" textLength="8.70" lengthAdjust="spacingAndGlyphs">1</text><text x="269.52" y="610.60" textLength="8.70" lengthAdjust="spacingAndGlyphs">8</text><text x="278.21" y="610.60" textLength="8.70" lengthAdjust="spacingAndGlyphs">8</text></g>
<g font-size="13.25" fill="#000"><text x="466.13" y="610.70" textLength="10.26" lengthAdjust="spacingAndGlyphs">G</text><text x="476.39" y="610.70" textLength="10.63" lengthAdjust="spacingAndGlyphs">O</text><text x="487.01" y="610.70" textLength="8.54" lengthAdjust="spacingAndGlyphs">E</text><text x="495.55" y="610.70" textLength="9.00" lengthAdjust="spacingAndGlyphs">S</text><text x="504.56" y="610.70" textLength="5.19" lengthAdjust="spacingAndGlyphs">-</text><text x="509.74" y="610.70" textLength="8.70" lengthAdjust="spacingAndGlyphs">1</text><text x="518.44" y="610.70" textLength="8.70" lengthAdjust="spacingAndGlyphs">6</text><text x="531.49" y="610.70" textLength="9.63" lengthAdjust="spacingAndGlyphs">R</text><text x="541.12" y="610.70" textLength="12.44" lengthAdjust="spacingAndGlyphs">M</text><text x="553.55" y="610.70" textLength="9.00" lengthAdjust="spacingAndGlyphs">S</text><text x="566.91" y="610.70" textLength="10.47" lengthAdjust="spacingAndGlyphs">=</text><text x="581.73" y="610.70" textLength="8.70" lengthAdjust="spacingAndGlyphs">4</text><text x="590.43" y="610.70" textLength="4.75" lengthAdjust="spacingAndGlyphs">.</text><text x="595.18" y="610.70" textLength="8.70" lengthAdjust="spacingAndGlyphs">0</text><text x="603.88" y="610.70" textLength="8.70" lengthAdjust="spacingAndGlyphs">3</text><text x="612.58" y="610.70" textLength="8.70" lengthAdjust="spacingAndGlyphs">7</text><text x="621.27" y="610.70" textLength="8.70" lengthAdjust="spacingAndGlyphs">8</text></g>
<g font-size="26.25" fill="#000" stroke="#000" stroke-width="0.25"><text x="116.14" y="54.80" textLength="27.58" lengthAdjust="spacingAndGlyphs">W</text><text x="143.72" y="54.80" textLength="16.96" lengthAdjust="spacingAndGlyphs">e</text><text x="160.67" y="54.80" textLength="16.96" lengthAdjust="spacingAndGlyphs">e</text><text x="177.63" y="54.80" textLength="16.63" lengthAdjust="spacingAndGlyphs">k</text><text x="194.25" y="54.80" textLength="8.57" lengthAdjust="spacingAndGlyphs">l</text><text x="202.82" y="54.80" textLength="16.30" lengthAdjust="spacingAndGlyphs">y</text><text x="227.82" y="54.80" textLength="18.35" lengthAdjust="spacingAndGlyphs">C</text><text x="246.17" y="54.80" textLength="8.57" lengthAdjust="spacingAndGlyphs">l</text><text x="254.74" y="54.80" textLength="17.18" lengthAdjust="spacingAndGlyphs">o</text><text x="271.92" y="54.80" textLength="17.80" lengthAdjust="spacingAndGlyphs">u</text><text x="289.71" y="54.80" textLength="17.90" lengthAdjust="spacingAndGlyphs">d</text><text x="307.61" y="54.80" textLength="16.30" lengthAdjust="spacingAndGlyphs">y</text><text x="332.61" y="54.80" textLength="18.35" lengthAdjust="spacingAndGlyphs">C</text><text x="350.96" y="54.80" textLength="17.18" lengthAdjust="spacingAndGlyphs">o</text><text x="368.13" y="54.80" textLength="26.05" lengthAdjust="spacingAndGlyphs">m</text><text x="394.18" y="54.80" textLength="17.90" lengthAdjust="spacingAndGlyphs">p</text><text x="412.08" y="54.80" textLength="16.87" lengthAdjust="spacingAndGlyphs">a</text><text x="428.95" y="54.80" textLength="12.33" lengthAdjust="spacingAndGlyphs">r</text><text x="441.28" y="54.80" textLength="8.57" lengthAdjust="spacingAndGlyphs">i</text><text x="449.84" y="54.80" textLength="14.88" lengthAdjust="spacingAndGlyphs">s</text><text x="464.73" y="54.80" textLength="17.18" lengthAdjust="spacingAndGlyphs">o</text><text x="481.90" y="54.80" textLength="17.80" lengthAdjust="spacingAndGlyphs">n</text><text x="508.40" y="54.80" textLength="11.95" lengthAdjust="spacingAndGlyphs">t</text><text x="520.35" y="54.80" textLength="17.18" lengthAdjust="spacingAndGlyphs">o</text><text x="546.23" y="54.80" textLength="19.35" lengthAdjust="spacingAndGlyphs">A</text><text x="565.58" y="54.80" textLength="24.88" lengthAdjust="spacingAndGlyphs">M</text><text x="590.46" y="54.80" textLength="18.01" lengthAdjust="spacingAndGlyphs">S</text><text x="608.46" y="54.80" textLength="19.25" lengthAdjust="spacingAndGlyphs">R</text><text x="627.71" y="54.80" textLength="17.40" lengthAdjust="spacingAndGlyphs">2</text><text x="653.81" y="54.80" textLength="17.18" lengthAdjust="spacingAndGlyphs">o</text><text x="670.99" y="54.80" textLength="16.30" lengthAdjust="spacingAndGlyphs">v</text><text x="687.28" y="54.80" textLength="16.96" lengthAdjust="spacingAndGlyphs">e</text><text x="704.24" y="54.80" textLength="12.33" lengthAdjust="spacingAndGlyphs">r</text><text x="725.27" y="54.80" textLength="18.35" lengthAdjust="spacingAndGlyphs">C</text><text x="743.62" y="54.80" textLength="21.25" lengthAdjust="spacingAndGlyphs">O</text><text x="764.87" y="54.80" textLength="20.92" lengthAdjust="spacingAndGlyphs">N</text><text x="785.79" y="54.80" textLength="20.30" lengthAdjust="spacingAndGlyphs">U</text><text x="806.09" y="54.80" textLength="18.01" lengthAdjust="spacingAndGlyphs">S</text><text x="832.80" y="54.80" textLength="18.01" lengthAdjust="spacingAndGlyphs">S</text><text x="850.81" y="54.80" textLength="16.96" lengthAdjust="spacingAndGlyphs">e</text><text x="867.76" y="54.80" textLength="14.82" lengthAdjust="spacingAndGlyphs">c</text><text x="882.58" y="54.80" textLength="11.95" lengthAdjust="spacingAndGlyphs">t</text><text x="894.53" y="54.80" textLength="17.18" lengthAdjust="spacingAndGlyphs">o</text><text x="911.71" y="54.80" textLength="12.33" lengthAdjust="spacingAndGlyphs">r</text><text x="932.74" y="54.80" textLength="25.00" lengthAdjust="spacingAndGlyphs">@</text><text x="966.45" y="54.80" textLength="17.40" lengthAdjust="spacingAndGlyphs">2</text><text x="983.84" y="54.80" textLength="17.40" lengthAdjust="spacingAndGlyphs">0</text><text x="1001.24" y="54.80" textLength="17.40" lengthAdjust="spacingAndGlyphs">1</text><text x="1018.63" y="54.80" textLength="17.40" lengthAdjust="spacingAndGlyphs">7</text><text x="1036.03" y="54.80" textLength="10.38" lengthAdjust="spacingAndGlyphs">-</text><text x="1046.40" y="54.80" textLength="17.40" lengthAdjust="spacingAndGlyphs">0</text><text x="1063.80" y="54.80" textLength="17.40" lengthAdjust="spacingAndGlyphs">6</text><text x="1081.19" y="54.80" textLength="10.38" lengthAdjust="spacingAndGlyphs">-</text><text x="1091.57" y="54.80" textLength="17.40" lengthAdjust="spacingAndGlyphs">1</text><text x="1108.96" y="54.80" textLength="17.40" lengthAdjust="spacingAndGlyphs">1</text></g>
<path d="M1017.5 73.3L1081.5 73.3" stroke="#e81010" stroke-width="2.2"/>
<path d="M1042.70 73.30L1054.70 73.30M1048.70 67.30L1048.70 79.30M1044.46 69.06L1052.94 77.54M1044.46 77.54L1052.94 69.06" stroke="#f00000" stroke-width="2.00" fill="none"/>
<g font-size="13.25" fill="#000"><text x="1087.48" y="77.50" textLength="10.26" lengthAdjust="spacingAndGlyphs">G</text><text x="1097.74" y="77.50" textLength="8.54" lengthAdjust="spacingAndGlyphs">F</text><text x="1106.28" y="77.50" textLength="9.00" lengthAdjust="spacingAndGlyphs">S</text></g>
<path d="M1017.5 105.3L1081.5 105.3" stroke="#0000e8" stroke-width="2.2"/>
<rect x="1045.50" y="101.80" width="7.00" height="7.00" fill="#0000ff"/>
<g font-size="13.25" fill="#000"><text x="1087.48" y="109.40" textLength="10.26" lengthAdjust="spacingAndGlyphs">G</text><text x="1097.74" y="109.40" textLength="10.63" lengthAdjust="spacingAndGlyphs">O</text><text x="1108.36" y="109.40" textLength="8.54" lengthAdjust="spacingAndGlyphs">E</text><text x="1116.90" y="109.40" textLength="9.00" lengthAdjust="spacingAndGlyphs">S</text><text x="1125.91" y="109.40" textLength="5.19" lengthAdjust="spacingAndGlyphs">-</text><text x="1131.09" y="109.40" textLength="8.70" lengthAdjust="spacingAndGlyphs">1</text><text x="1139.79" y="109.40" textLength="8.70" lengthAdjust="spacingAndGlyphs">6</text></g>
</svg>
</body></html>
